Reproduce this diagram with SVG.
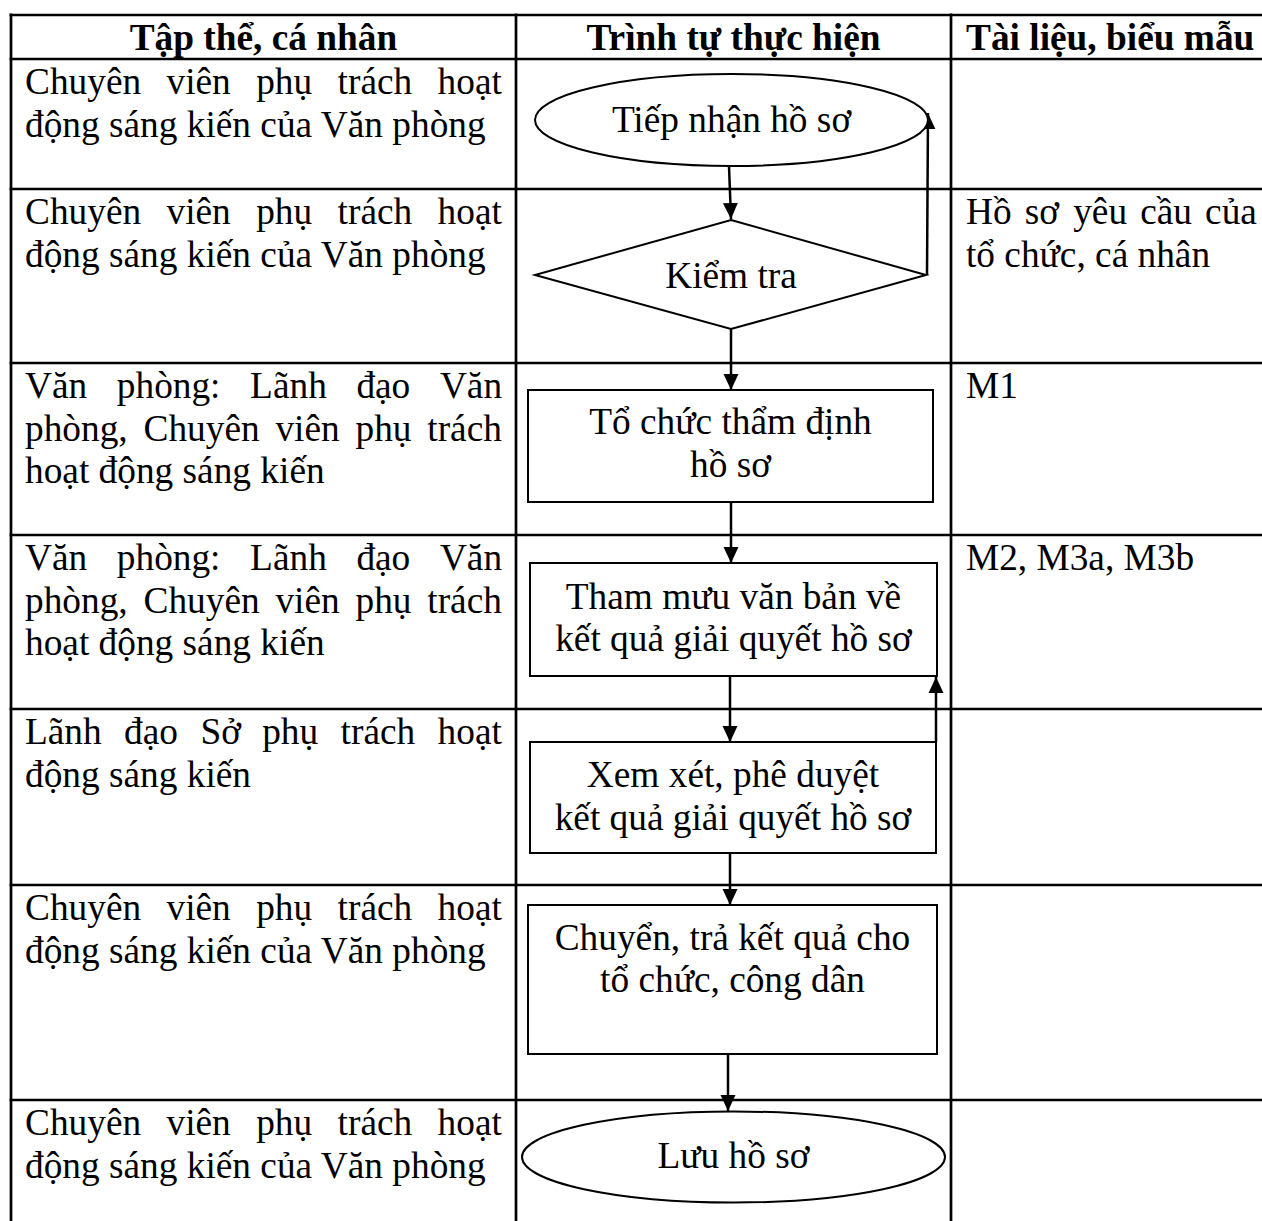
<svg xmlns="http://www.w3.org/2000/svg" width="1262" height="1221" viewBox="0 0 1262 1221">
<defs>
<marker id="ah" markerUnits="userSpaceOnUse" markerWidth="18" markerHeight="18" refX="16" refY="8" orient="auto"><path d="M0,0.5 L16,8 L0,15.5 z" fill="#000"/></marker>
</defs>
<style>
text { font-family: "Liberation Serif", "Times New Roman", serif; font-size: 37.33px; fill: #000; }
.h { font-weight: bold; }
.c { text-anchor: middle; }
.grid line { stroke: #000; stroke-width: 2.7; }
.shape { fill: #fff; stroke: #000; stroke-width: 2; }
.conn { stroke: #000; stroke-width: 2.5; fill: none; marker-end: url(#ah); }
</style>
<rect width="1262" height="1221" fill="#fff"/>
<g id="table" class="grid">
<line x1="9.6" y1="15" x2="1262" y2="15"/>
<line x1="9.6" y1="59" x2="1262" y2="59"/>
<line x1="9.6" y1="189" x2="1262" y2="189"/>
<line x1="9.6" y1="363" x2="1262" y2="363"/>
<line x1="9.6" y1="535" x2="1262" y2="535"/>
<line x1="9.6" y1="709" x2="1262" y2="709"/>
<line x1="9.6" y1="885" x2="1262" y2="885"/>
<line x1="9.6" y1="1100" x2="1262" y2="1100"/>
<line x1="11" y1="13.6" x2="11" y2="1221"/>
<line x1="516" y1="13.6" x2="516" y2="1221"/>
<line x1="951" y1="13.6" x2="951" y2="1221"/>
</g>
<g id="headers">
<text class="h c" x="263.5" y="50">Tập thể, cá nhân</text>
<text class="h c" x="733.5" y="50">Trình tự thực hiện</text>
<text class="h" x="966" y="50">Tài liệu, biểu mẫu</text>
</g>
<g id="col-actors">
<text y="94"><tspan x="25">Chuyên </tspan><tspan x="166.5">viên </tspan><tspan x="256.2">phụ </tspan><tspan x="337.6">trách </tspan><tspan x="437.6">hoạt</tspan></text>
<text x="25" y="137">động sáng kiến của Văn phòng</text>
<text y="224"><tspan x="25">Chuyên </tspan><tspan x="166.5">viên </tspan><tspan x="256.2">phụ </tspan><tspan x="337.6">trách </tspan><tspan x="437.6">hoạt</tspan></text>
<text x="25" y="267">động sáng kiến của Văn phòng</text>
<text y="398"><tspan x="25">Văn </tspan><tspan x="116.8">phòng: </tspan><tspan x="250.1">Lãnh </tspan><tspan x="356.4">đạo </tspan><tspan x="439.9">Văn</tspan></text>
<text y="440.5"><tspan x="25">phòng, </tspan><tspan x="143.5">Chuyên </tspan><tspan x="275.4">viên </tspan><tspan x="355.5">phụ </tspan><tspan x="427.3">trách</tspan></text>
<text x="25" y="483">hoạt động sáng kiến</text>
<text y="570"><tspan x="25">Văn </tspan><tspan x="116.8">phòng: </tspan><tspan x="250.1">Lãnh </tspan><tspan x="356.4">đạo </tspan><tspan x="439.9">Văn</tspan></text>
<text y="612.5"><tspan x="25">phòng, </tspan><tspan x="143.5">Chuyên </tspan><tspan x="275.4">viên </tspan><tspan x="355.5">phụ </tspan><tspan x="427.3">trách</tspan></text>
<text x="25" y="655">hoạt động sáng kiến</text>
<text y="744"><tspan x="25">Lãnh </tspan><tspan x="124.1">đạo </tspan><tspan x="200.4">Sở </tspan><tspan x="262.2">phụ </tspan><tspan x="340.6">trách </tspan><tspan x="437.6">hoạt</tspan></text>
<text x="25" y="786.5">động sáng kiến</text>
<text y="920"><tspan x="25">Chuyên </tspan><tspan x="166.5">viên </tspan><tspan x="256.2">phụ </tspan><tspan x="337.6">trách </tspan><tspan x="437.6">hoạt</tspan></text>
<text x="25" y="963">động sáng kiến của Văn phòng</text>
<text y="1135"><tspan x="25">Chuyên </tspan><tspan x="166.5">viên </tspan><tspan x="256.2">phụ </tspan><tspan x="337.6">trách </tspan><tspan x="437.6">hoạt</tspan></text>
<text x="25" y="1178">động sáng kiến của Văn phòng</text>
</g>
<g id="col-docs">
<text y="224"><tspan x="966">Hồ </tspan><tspan x="1024.7">sơ </tspan><tspan x="1073.2">yêu </tspan><tspan x="1140.2">cầu </tspan><tspan x="1205.1">của</tspan></text>
<text x="966" y="267">tổ chức, cá nhân</text>
<text x="966" y="398">M1</text>
<text x="966" y="570">M2, M3a, M3b</text>
</g>
<g id="connectors">
<path class="conn" d="M729,166 L731,219"/>
<path class="conn" d="M927,275 L928,113"/>
<path class="conn" d="M731,329 L731,390"/>
<path class="conn" d="M731,502 L731,563"/>
<path class="conn" d="M730,676 L730,742"/>
<path class="conn" d="M936,742 L936,677"/>
<path class="conn" d="M730,853 L730,905"/>
<path class="conn" d="M728,1054 L728,1111"/>
</g>
<g id="n1">
<ellipse class="shape" cx="731.5" cy="120" rx="196.5" ry="46"/>
<text class="c" x="731.5" y="132">Tiếp nhận hồ sơ</text>
</g>
<g id="n2">
<polygon class="shape" points="731,220 926,275 731,329 535,275"/>
<text class="c" x="731" y="288">Kiểm tra</text>
</g>
<g id="n3">
<rect class="shape" x="528" y="390" width="405" height="112"/>
<text class="c" x="730.5" y="434">Tổ chức thẩm định</text>
<text class="c" x="730.5" y="477">hồ sơ</text>
</g>
<g id="n4">
<rect class="shape" x="530" y="563" width="407" height="113"/>
<text class="c" x="733.5" y="609">Tham mưu văn bản về</text>
<text class="c" x="733.5" y="651">kết quả giải quyết hồ sơ</text>
</g>
<g id="n5">
<rect class="shape" x="530" y="742" width="406" height="111"/>
<text class="c" x="733" y="787">Xem xét, phê duyệt</text>
<text class="c" x="733" y="830">kết quả giải quyết hồ sơ</text>
</g>
<g id="n6">
<rect class="shape" x="528" y="905" width="409" height="149"/>
<text class="c" x="732.5" y="950">Chuyển, trả kết quả cho</text>
<text class="c" x="732.5" y="992">tổ chức, công dân</text>
</g>
<g id="n7">
<ellipse class="shape" cx="733.5" cy="1157" rx="211.5" ry="45.5"/>
<text class="c" x="733.5" y="1168">Lưu hồ sơ</text>
</g>
</svg>
